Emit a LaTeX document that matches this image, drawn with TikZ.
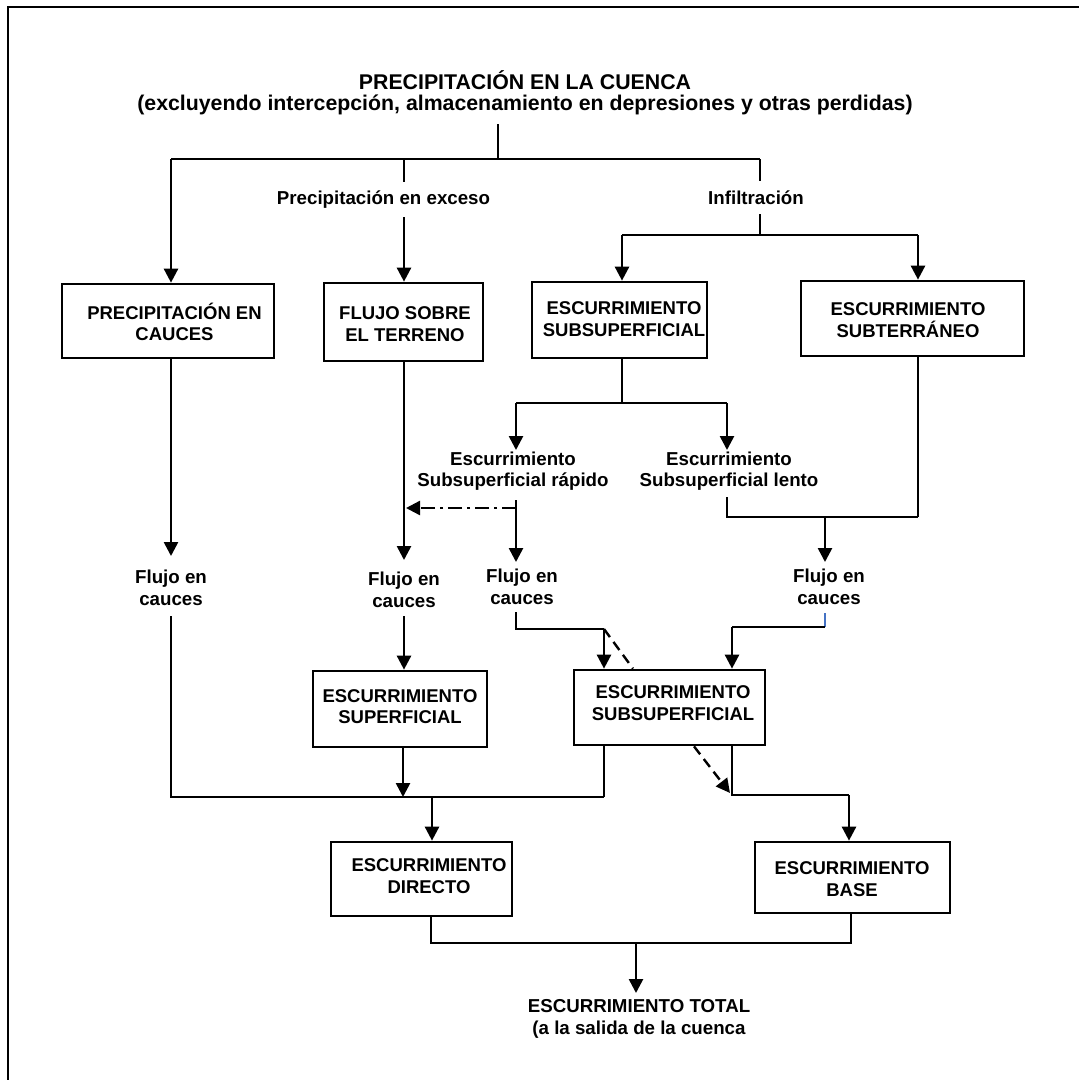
\documentclass[tikz,border=0pt]{standalone}
\usepackage{fontspec}
\setmainfont{Liberation Sans}
\usetikzlibrary{arrows.meta}
\newcommand\boxfont{\fontsize{18.5}{21.5}\selectfont\bfseries}
\newcommand\lblfont{\fontsize{18.7}{21.5}\selectfont\bfseries}
\newcommand\headfont{\fontsize{21.3}{25}\selectfont\bfseries}
\begin{document}
\begin{tikzpicture}[x=1pt,y=-1pt,
  box/.style={draw, line width=2.7pt, inner sep=0pt},
  boxtxt/.style={inner sep=0pt, align=center, font=\boxfont},
  lbl/.style={inner sep=0pt, align=center, font=\lblfont},
  thinline/.style={line width=1.1pt},
  tip/.style={-{Triangle[length=14pt,width=14pt]}},
  arr/.style={line width=2.6pt, tip},
  dashdot/.style={line width=2.4pt, dash pattern=on 14pt off 5pt on 3pt off 5pt, tip},
  dashline/.style={line width=2.4pt, dash pattern=on 10pt off 6pt},
  dasharr/.style={dashline, tip}
]
\useasboundingbox (0,0) rectangle (1079,1080);

% frame
\coordinate (fr) at (1079,7);
\coordinate (fc) at (8,7);
\coordinate (fb) at (8,1080);
\draw[line width=2.5pt] (fr) -- (fc) -- (fb);

% headings
\node[inner sep=0pt, font=\headfont] (title) at (525,80) {PRECIPITACIÓN EN LA CUENCA};
\node[inner sep=0pt, font=\headfont] (subtitle) at (525,105) {(excluyendo intercepción, almacenamiento en depresiones y otras perdidas)};

% boxes
\node[box, minimum width=212pt, minimum height=74pt] (b1) at (168,321) {};
\node[box, minimum width=159pt, minimum height=78pt] (b2) at (403.5,322) {};
\node[box, minimum width=175pt, minimum height=76pt] (b3) at (619.5,320) {};
\node[box, minimum width=223pt, minimum height=75pt] (b4) at (912.5,318.5) {};
\node[box, minimum width=174pt, minimum height=76pt] (b5) at (400,709) {};
\node[box, minimum width=191pt, minimum height=75pt] (b6) at (669.5,707.5) {};
\node[box, minimum width=181pt, minimum height=74pt] (b7) at (421.5,879) {};
\node[box, minimum width=195pt, minimum height=71pt] (b8) at (852.5,877.5) {};

% box texts
\node[boxtxt] (b1t) at (174.5,322) {PRECIPITACIÓN EN\\CAUCES};
\node[boxtxt] (b2t) at (405,324) {FLUJO SOBRE\\EL TERRENO};
\node[boxtxt] (b3t) at (624,319) {ESCURRIMIENTO\\SUBSUPERFICIAL};
\node[boxtxt] (b4t) at (908,320) {ESCURRIMIENTO\\SUBTERRÁNEO};
\node[boxtxt] (b5t) at (400,706.5) {ESCURRIMIENTO\\SUPERFICIAL};
\node[boxtxt] (b6t) at (673,703) {ESCURRIMIENTO\\SUBSUPERFICIAL};
\node[boxtxt] (b7t) at (429,876) {ESCURRIMIENTO\\DIRECTO};
\node[boxtxt] (b8t) at (852,879) {ESCURRIMIENTO\\BASE};

% labels
\node[lbl] (exceso) at (383.5,200) {Precipitación en exceso};
\node[lbl] (infil) at (756,198) {Infiltración};
\node[lbl] (rapido) at (513,471) {Escurrimiento\\Subsuperficial rápido};
\node[lbl] (lento) at (729,471) {Escurrimiento\\Subsuperficial lento};
\node[lbl] (fc1) at (171,588) {Flujo en\\cauces};
\node[lbl] (fc2) at (404,590) {Flujo en\\cauces};
\node[lbl] (fc3) at (522,587) {Flujo en\\cauces};
\node[lbl] (fc4) at (829,587) {Flujo en\\cauces};
\node[lbl] (total) at (639,1019) {ESCURRIMIENTO TOTAL\\(a la salida de la cuenca};

% top split
\coordinate (s0) at (498,124);
\coordinate (s1) at (498,159);
\coordinate (bl) at (171,159);
\coordinate (bm) at (404,159);
\coordinate (br) at (760,159);
\draw[thinline] (s0) -- (s1);
\draw[thinline] (bl) -- (br);
\draw[arr] (bl) -- (bl |- b1.north);
\coordinate (e1) at (404,182);
\coordinate (e2) at (404,217);
\draw[thinline] (bm) -- (e1);
\draw[arr] (e2) -- (e2 |- b2.north);

% infiltration split
\coordinate (i1) at (760,181);
\coordinate (i2) at (760,214);
\coordinate (i3) at (760,235);
\coordinate (il) at (622,235);
\coordinate (ir) at (918,235);
\draw[thinline] (br) -- (i1);
\draw[thinline] (i2) -- (i3);
\draw[thinline] (il) -- (ir);
\draw[arr] (il) -- (il |- b3.north);
\draw[arr] (ir) -- (ir |- b4.north);

% subsurface split
\coordinate (ss) at (622,403);
\coordinate (sl) at (516,403);
\coordinate (sr) at (727,403);
\draw[thinline] (ss |- b3.south) -- (ss);
\draw[thinline] (sl) -- (sr);
\coordinate (slt) at (516,450);
\coordinate (srt) at (727,450);
\draw[arr] (sl) -- (slt);
\draw[arr] (sr) -- (srt);

% quick subsurface flow
\coordinate (q1) at (516,500);
\coordinate (q2) at (516,562);
\coordinate (q3) at (516,508);
\coordinate (q4) at (406,508);
\draw[arr] (q1) -- (q2);
\draw[dashdot] (q3) -- (q4);

% slow subsurface + groundwater
\coordinate (l1) at (727,497);
\coordinate (l2) at (727,517);
\coordinate (g1) at (918,517);
\coordinate (l3) at (825,517);
\coordinate (l4) at (825,562);
\draw[thinline] (l1) -- (l2) -- (g1);
\draw[thinline] (g1 |- b4.south) -- (g1);
\draw[arr] (l3) -- (l4);

% channel flow from overland and channel precipitation
\coordinate (c1) at (171,556);
\coordinate (c2) at (404,560);
\draw[arr] (c1 |- b1.south) -- (c1);
\draw[arr] (c2 |- b2.south) -- (c2);
\coordinate (c3) at (404,616);
\draw[arr] (c3) -- (c3 |- b5.north);

% inflows to subsurface runoff box
\coordinate (m1) at (516,612);
\coordinate (m2) at (516,629);
\coordinate (m3) at (604,629);
\coordinate (m4) at (633,670);
\draw[thinline] (m1) -- (m2) -- (m3);
\draw[arr] (m3) -- (m3 |- b6.north);
\draw[dashline] (m3) -- (m4 |- b6.north);
\coordinate (n1) at (825,613);
\coordinate (n2) at (825,627);
\coordinate (n3) at (732,627);
\draw[line width=1.1pt, color={rgb,255:red,68;green,114;blue,196}] (n1) -- (n2);
\draw[thinline] (n2) -- (n3);
\draw[arr] (n3) -- (n3 |- b6.north);

% direct runoff collector
\coordinate (d0) at (171,616);
\coordinate (d1) at (171,797);
\coordinate (d2) at (604,797);
\coordinate (d3) at (403,797);
\coordinate (d4) at (432,797);
\draw[thinline] (d0) -- (d1) -- (d2);
\draw[thinline] (d2 |- b6.south) -- (d2);
\draw[arr] (d3 |- b5.south) -- (d3);
\draw[arr] (d4) -- (d4 |- b7.north);

% base flow collector
\coordinate (k1) at (732,795);
\coordinate (k2) at (849,795);
\coordinate (k3) at (694,745);
\coordinate (k4) at (730,793);
\draw[thinline] (k1 |- b6.south) -- (k1) -- (k2);
\draw[arr] (k2) -- (k2 |- b8.north);
\draw[dasharr] (k3 |- b6.south) -- (k4);

% total runoff
\coordinate (t1) at (431,943);
\coordinate (t2) at (851,943);
\coordinate (t3) at (636,943);
\coordinate (t4) at (636,993);
\draw[thinline] (t1 |- b7.south) -- (t1) -- (t2) -- (t2 |- b8.south);
\draw[arr] (t3) -- (t4);
\end{tikzpicture}
\end{document}
